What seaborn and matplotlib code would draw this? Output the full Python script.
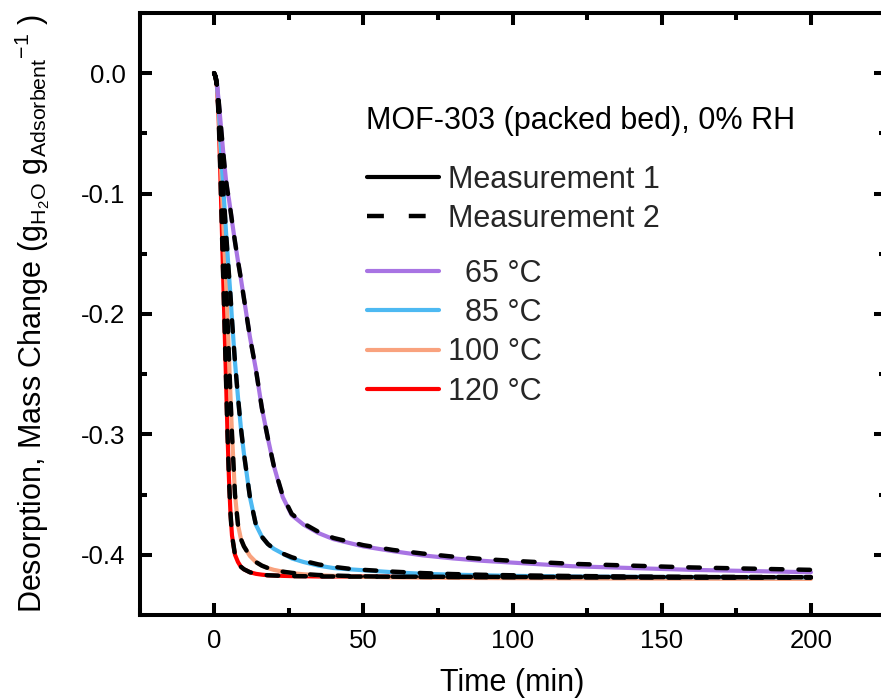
import numpy as np
import pandas as pd
import matplotlib
matplotlib.use("Agg")
import matplotlib.pyplot as plt
from matplotlib.lines import Line2D
from matplotlib.ticker import MultipleLocator, FormatStrFormatter
import seaborn as sns

# ---------------- data ----------------
time = [0, 0.5, 1, 1.5, 2, 2.5, 3, 3.5, 4, 4.5, 5, 5.5, 6, 7, 8, 9, 10, 12, 14, 16,
        18, 20, 23, 26, 30, 35, 40, 45, 50, 60, 70, 80, 90, 100, 120, 140, 160, 180, 200]

temps = ["65", "85", "100", "120"]

m1_65 = [0, -0.003, -0.010, -0.022, -0.036, -0.050, -0.064, -0.077, -0.089, -0.098,
         -0.105, -0.114, -0.123, -0.140, -0.156, -0.171, -0.187, -0.219, -0.246, -0.278,
         -0.303, -0.326, -0.352, -0.367, -0.375, -0.382, -0.387, -0.390, -0.393, -0.397,
         -0.4005, -0.403, -0.405, -0.4065, -0.4095, -0.411, -0.4125, -0.4135, -0.4145]
m1_85 = [0, -0.003, -0.010, -0.026, -0.048, -0.072, -0.092, -0.112, -0.132, -0.150,
         -0.168, -0.185, -0.205, -0.240, -0.269, -0.295, -0.316, -0.352, -0.375, -0.385,
         -0.391, -0.395, -0.399, -0.403, -0.406, -0.409, -0.411, -0.412, -0.4128, -0.4145,
         -0.4158, -0.4165, -0.4170, -0.4175, -0.4180, -0.4183, -0.4185, -0.4186, -0.4187]
m1_100 = [0, -0.003, -0.011, -0.030, -0.058, -0.090, -0.120, -0.148, -0.173, -0.205,
          -0.237, -0.269, -0.300, -0.350, -0.375, -0.387, -0.393, -0.401, -0.406, -0.409,
          -0.411, -0.4125, -0.4140, -0.4152, -0.4162, -0.4170, -0.4175, -0.4180, -0.4183, -0.4187,
          -0.4190, -0.4192, -0.4193, -0.4194, -0.4196, -0.4197, -0.4198, -0.4199, -0.4200]
m1_120 = [0, -0.003, -0.012, -0.035, -0.075, -0.120, -0.165, -0.210, -0.255, -0.300,
          -0.338, -0.366, -0.384, -0.400, -0.406, -0.410, -0.412, -0.4145, -0.4158, -0.4165,
          -0.4170, -0.4172, -0.4175, -0.4177, -0.4178, -0.4180, -0.4180, -0.4181, -0.4181, -0.4182,
          -0.4182, -0.4183, -0.4183, -0.4184, -0.4184, -0.4185, -0.4185, -0.4186, -0.4186]

m2_65 = [0, -0.003, -0.010, -0.022, -0.036, -0.050, -0.064, -0.077, -0.089, -0.098,
         -0.105, -0.114, -0.123, -0.140, -0.156, -0.171, -0.187, -0.219, -0.246, -0.278,
         -0.303, -0.326, -0.351, -0.366, -0.374, -0.381, -0.386, -0.389, -0.392, -0.396,
         -0.399, -0.4015, -0.4035, -0.405, -0.4075, -0.409, -0.4105, -0.4115, -0.4125]
m2_85 = [0, -0.003, -0.010, -0.026, -0.048, -0.072, -0.092, -0.112, -0.132, -0.150,
         -0.168, -0.185, -0.205, -0.240, -0.269, -0.295, -0.316, -0.352, -0.375, -0.385,
         -0.391, -0.395, -0.399, -0.402, -0.405, -0.408, -0.410, -0.4115, -0.4125, -0.4140,
         -0.4152, -0.4160, -0.4166, -0.4170, -0.4176, -0.4180, -0.4182, -0.4184, -0.4185]
m2_100 = [0, -0.003, -0.011, -0.030, -0.058, -0.090, -0.120, -0.148, -0.173, -0.205,
          -0.237, -0.269, -0.300, -0.350, -0.375, -0.387, -0.393, -0.401, -0.406, -0.409,
          -0.411, -0.4125, -0.4140, -0.4150, -0.4160, -0.4168, -0.4172, -0.4176, -0.4179, -0.4182,
          -0.4184, -0.4185, -0.4186, -0.4187, -0.4188, -0.4189, -0.4190, -0.4190, -0.4190]
m2_120 = [0, -0.003, -0.012, -0.035, -0.075, -0.120, -0.165, -0.210, -0.255, -0.300,
          -0.338, -0.366, -0.384, -0.400, -0.406, -0.410, -0.412, -0.4145, -0.4158, -0.4165,
          -0.4170, -0.4172, -0.4175, -0.4177, -0.4178, -0.4180, -0.4180, -0.4181, -0.4181, -0.4182,
          -0.4182, -0.4183, -0.4183, -0.4184, -0.4184, -0.4185, -0.4185, -0.4186, -0.4186]

colors = {"65": "#A874E3", "85": "#4DB9F2", "100": "#F9A27E", "120": "#FF0000"}
m1 = {"65": m1_65, "85": m1_85, "100": m1_100, "120": m1_120}
m2 = {"65": m2_65, "85": m2_85, "100": m2_100, "120": m2_120}

# ---------------- style ----------------
sns.set_theme(style="ticks")
plt.rcParams["font.family"] = ["Liberation Sans", "DejaVu Sans"]
plt.rcParams["mathtext.fontset"] = "custom"
plt.rcParams["mathtext.rm"] = "Liberation Sans"
plt.rcParams["mathtext.it"] = "Liberation Sans:italic"
plt.rcParams["mathtext.bf"] = "Liberation Sans:bold"
plt.rcParams["axes.unicode_minus"] = False

fig = plt.figure(figsize=(8.81, 7.0), dpi=100)
ax = fig.add_axes([139.5 / 881, 85 / 700, 746 / 881, 602 / 700])

LW = 3.0
draw_order = ["120", "100", "85", "65"]
for t in draw_order:
    sns.lineplot(x=time, y=m1[t], ax=ax, color=colors[t], lw=LW, sort=False,
                 estimator=None, legend=False, solid_capstyle="round")
for t in draw_order:
    sns.lineplot(x=time, y=m2[t], ax=ax, color="black", lw=3.2, sort=False,
                 estimator=None, legend=False)
# set dash pattern on the dashed lines
for ln in ax.lines[len(draw_order):]:
    ln.set_dashes((2.6, 3.6))
    ln.set_dash_capstyle("round")

ax.set_xlim(-25, 225)
ax.set_ylim(-0.45, 0.05)
ax.xaxis.set_major_locator(MultipleLocator(50))
ax.xaxis.set_minor_locator(MultipleLocator(25))
ax.yaxis.set_major_locator(MultipleLocator(0.1))
ax.yaxis.set_minor_locator(MultipleLocator(0.05))
ax.yaxis.set_major_formatter(FormatStrFormatter("%.1f"))

for s in ax.spines.values():
    s.set_visible(True)
    s.set_linewidth(2.9)
    s.set_color("black")
ax.tick_params(which="both", direction="in", top=True, right=True, width=2.9,
               color="black", labelsize=18.5, labelcolor="black")
ax.tick_params(which="major", length=8.6, pad=10)
ax.tick_params(which="minor", length=5)

ax.set_xlabel("Time (min)", fontsize=22, color="black", labelpad=11)
ax.set_ylabel(r"Desorption, Mass Change (g$_{\mathrm{H_2O}}$ g$_{\mathrm{Adsorbent}}{}^{-1}$ )",
              fontsize=22, color="black", labelpad=21)

# title text inside the plot
ax.text(366 / 881, 1 - 121 / 700, "MOF-303 (packed bed), 0% RH", transform=fig.transFigure,
        fontsize=22, va="center", ha="left", color="black")

# legends
h_m = [Line2D([], [], color="black", lw=3.0),
       Line2D([], [], color="black", lw=3.2)]
leg1 = ax.legend(h_m, ["Measurement 1", "Measurement 2"], loc="upper left",
                 bbox_to_anchor=(366.7 / 881, 1 - 165 / 700), bbox_transform=fig.transFigure,
                 frameon=False, fontsize=22, handlelength=2.36, handletextpad=0.3,
                 labelspacing=0.3, borderpad=0, borderaxespad=0)
leg1.get_lines()[1].set_dashes((3.8, 5.6))
leg1.get_lines()[1].set_dash_capstyle("butt")
ax.add_artist(leg1)
h_t = [Line2D([], [], color=colors[t], lw=3.0) for t in temps]
lab_t = ["  65 °C", "  85 °C", "100 °C", "120 °C"]
leg2 = ax.legend(h_t, lab_t, loc="upper left",
                 bbox_to_anchor=(366.7 / 881, 1 - 259 / 700), bbox_transform=fig.transFigure,
                 frameon=False, fontsize=22, handlelength=2.36, handletextpad=0.3,
                 labelspacing=0.3, borderpad=0, borderaxespad=0)

fig.savefig("out.png", dpi=100)
